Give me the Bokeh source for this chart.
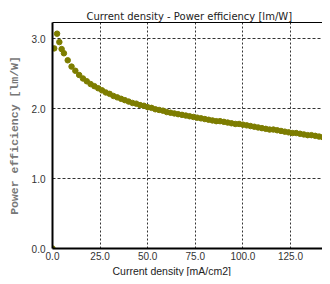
from bokeh.plotting import figure
from bokeh.models import Range1d, FixedTicker, LinearAxis, Title, ColumnDataSource
from bokeh.embed import file_html
from bokeh.resources import INLINE

# data
current_density = [0.0, 0.9, 2.4, 3.6, 4.8, 6, 8, 10, 12, 14, 16, 18, 20, 22, 24, 26, 28, 30,
                   32, 34, 36, 38, 40, 42, 44, 46, 48, 50, 52, 54, 56, 58, 60, 62, 64, 66,
                   68, 70, 72, 74, 76, 78, 80, 82, 84, 86, 88, 90, 92, 94, 96, 98, 100,
                   102, 104, 106, 108, 110, 112, 114, 116, 118, 120, 122, 124, 126, 128,
                   130, 132, 134, 136, 138, 140, 142, 144, 146]
power_efficiency = [0.0, 2.86, 3.07, 2.95, 2.85, 2.79, 2.69, 2.60, 2.54, 2.48, 2.43, 2.39, 2.35,
                    2.32, 2.29, 2.26, 2.23, 2.21, 2.18, 2.16, 2.14, 2.12, 2.10, 2.08, 2.07,
                    2.05, 2.04, 2.02, 2.01, 1.99, 1.98, 1.97, 1.95, 1.94, 1.93, 1.92, 1.91,
                    1.90, 1.89, 1.88, 1.87, 1.86, 1.85, 1.84, 1.83, 1.82, 1.82, 1.81, 1.80,
                    1.79, 1.78, 1.78, 1.77, 1.76, 1.75, 1.74, 1.73, 1.72, 1.71, 1.70, 1.70,
                    1.69, 1.68, 1.67, 1.66, 1.65, 1.65, 1.64, 1.63, 1.62, 1.62, 1.61, 1.60,
                    1.59, 1.59, 1.58]
x_ticks = [0, 25, 50, 75, 100, 125]
x_tick_labels = ["0.0", "25.0", "50.0", "75.0", "100.0", "125.0"]
y_ticks = [0, 1, 2, 3]
y_tick_labels = ["0.0", "1.0", "2.0", "3.0"]

title_text = "Current density - Power efficiency [lm/W]"
x_label = "Current density [mA/cm2]"
y_label = "Power efficiency [lm/W]"

p = figure(width=322, height=276, output_backend="svg", toolbar_location=None,
           x_range=Range1d(0, 141.8), y_range=Range1d(0, 3.23),
           min_border_left=52, min_border_right=0, min_border_top=22, min_border_bottom=26)
p.outline_line_color = None
p.background_fill_color = "white"
p.border_fill_color = "white"

src = ColumnDataSource(dict(x=current_density, y=power_efficiency))
p.scatter("x", "y", source=src, size=5.5, fill_color="#7d7d00", line_color="#7d7d00")

# axes
p.xaxis.ticker = FixedTicker(ticks=x_ticks)
p.yaxis.ticker = FixedTicker(ticks=y_ticks)
p.xaxis.major_label_overrides = {t: s for t, s in zip(x_ticks, x_tick_labels)}
p.yaxis.major_label_overrides = {t: s for t, s in zip(y_ticks, y_tick_labels)}
for ax in (p.xaxis[0], p.yaxis[0]):
    ax.axis_line_color = "black"
    ax.axis_line_width = 2
    ax.major_tick_line_color = None
    ax.minor_tick_line_color = None
    ax.major_tick_in = 0
    ax.major_tick_out = 0
    ax.minor_tick_out = 0
    ax.major_label_text_font = "Liberation Sans"
    ax.major_label_text_font_size = "10px"
    ax.major_label_text_color = "#333333"
p.xaxis.major_label_standoff = 3
p.yaxis.major_label_standoff = 7

p.yaxis.axis_label = y_label
p.yaxis.axis_label_text_font = "Liberation Mono"
p.yaxis.axis_label_text_font_size = "11.5px"
p.yaxis.axis_label_text_font_style = "bold"
p.yaxis.axis_label_text_color = "#777777"
p.yaxis.axis_label_standoff = 8

# top border line
top_axis = LinearAxis(ticker=FixedTicker(ticks=[]), axis_line_color="black", axis_line_width=1,
                      major_tick_line_color=None, minor_tick_line_color=None,
                      major_tick_out=0, minor_tick_out=0, major_label_text_font_size="0px")
p.add_layout(top_axis, "above")

# grid
p.xgrid.grid_line_color = "black"
p.ygrid.grid_line_color = "black"
p.xgrid.grid_line_dash = "2 2"
p.ygrid.grid_line_dash = "3 2"
p.xgrid.grid_line_alpha = 0.8
p.ygrid.grid_line_alpha = 0.8

# title
p.title.text = title_text
p.title.text_font = "DejaVu Sans"
p.title.text_font_size = "10px"
p.title.text_font_style = "normal"
p.title.text_color = "#222222"
p.title.align = "left"
p.title.offset = 34
p.title.standoff = 1

xl = Title(text=x_label, align="left", offset=60, text_font="Liberation Sans",
           text_font_size="10.5px", text_font_style="normal", text_color="#222222", standoff=0)
p.add_layout(xl, "below")

open("out.html", "w").write(file_html(p, INLINE))
